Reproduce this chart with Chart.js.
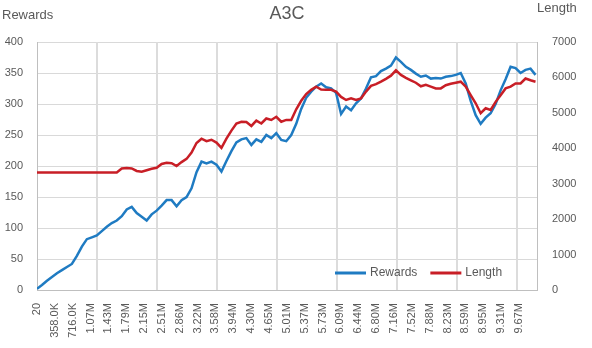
<!DOCTYPE html>
<html>
<head>
<meta charset="utf-8">
<script src="https://cdn.jsdelivr.net/npm/chart.js@4.4.1/dist/chart.umd.min.js"></script>
<style>
  html, body { margin: 0; padding: 0; background: #fff; }
</style>
</head>
<body>
<canvas id="chart" width="592" height="348"></canvas>
<script>
// training steps, in thousands
const stepsK = [0.02, 100, 200, 300, 400, 500, 600, 700, 800, 900,
  1000, 1100, 1200, 1300, 1400, 1500, 1600, 1700, 1800, 1900,
  2000, 2100, 2200, 2300, 2400, 2500, 2600, 2700, 2800, 2900,
  3000, 3100, 3200, 3300, 3400, 3500, 3600, 3700, 3800, 3900,
  4000, 4100, 4200, 4300, 4400, 4500, 4600, 4700, 4800, 4900,
  5000, 5100, 5200, 5300, 5400, 5500, 5600, 5700, 5800, 5900,
  6000, 6100, 6200, 6300, 6400, 6500, 6600, 6700, 6800, 6900,
  7000, 7100, 7200, 7300, 7400, 7500, 7600, 7700, 7800, 7900,
  8000, 8100, 8200, 8300, 8400, 8500, 8600, 8700, 8800, 8900,
  9000, 9100, 9200, 9300, 9400, 9500, 9600, 9700, 9800, 9900, 10000];

const rewards = [2, 8, 15, 21, 27, 32, 37, 42, 55, 70,
  82, 85, 88, 95, 102, 108, 112, 119, 130, 134,
  124, 118, 112, 122, 128, 136, 145, 145, 135, 145,
  150, 164, 190, 207, 204, 207, 202, 191, 208, 224,
  238, 243, 245, 234, 243, 239, 250, 245, 253, 242,
  240, 250, 268, 292, 310, 320, 328, 333, 327, 325,
  318, 284, 296, 290, 301, 309, 325, 343, 345, 353,
  357, 362, 375, 368, 360, 355, 349, 344, 346, 341,
  342, 341, 344, 345, 347, 350, 333, 305, 282, 268,
  278, 285, 300, 322, 340, 360, 358, 350, 355, 357, 347];

const lengths = [3320, 3320, 3320, 3320, 3320, 3320, 3320, 3320, 3320, 3320,
  3320, 3320, 3320, 3320, 3320, 3320, 3320, 3430, 3440, 3430,
  3360, 3340, 3380, 3420, 3450, 3556, 3590, 3580, 3500, 3610,
  3700, 3880, 4150, 4270, 4200, 4240, 4160, 4010, 4270, 4500,
  4700, 4750, 4740, 4630, 4780, 4700, 4840, 4800, 4890, 4750,
  4800, 4800, 5100, 5340, 5530, 5650, 5740, 5660, 5650, 5650,
  5600, 5450, 5363, 5410, 5363, 5410, 5600, 5760, 5810, 5880,
  5960, 6050, 6200, 6070, 5990, 5920, 5850, 5750, 5790, 5740,
  5690, 5690, 5780, 5820, 5850, 5880, 5740, 5500, 5270, 4990,
  5130, 5080, 5310, 5500, 5690, 5740, 5830, 5830, 5970, 5920, 5880];

const xTickLabels = ['20', '358.0K', '716.0K', '1.07M', '1.43M', '1.79M', '2.15M',
  '2.51M', '2.86M', '3.22M', '3.58M', '3.94M', '4.30M', '4.65M', '5.01M',
  '5.37M', '5.73M', '6.09M', '6.44M', '6.80M', '7.16M', '7.52M', '7.88M',
  '8.23M', '8.59M', '8.95M', '9.31M', '9.67M'];

const labelEveryK = 358;   // one label each 358K steps
const gridEveryK = 1204;   // vertical grid lines
const xMaxK = 10030;

const textColor = '#595959';
const gridColor = '#d9d9d9';
const fontFamily = "'Liberation Sans', Arial, sans-serif";

// title, axis captions, vertical grid and the legend inside the plot
const decorPlugin = {
  id: 'decor',
  beforeDatasetsDraw(chart) {
    const c = chart.ctx;
    const area = chart.chartArea;
    const xs = chart.scales.x;
    const left = xs.getPixelForValue(0);
    const width = xs.getPixelForValue(xMaxK) - left;
    c.save();
    c.fillStyle = '#dcdcdc';
    let k = 1;
    while (k * gridEveryK < xMaxK) {
      const px = Math.round(left + width * k * gridEveryK / xMaxK);
      c.fillRect(px - 1, area.top, 2, area.bottom - area.top);
      k++;
    }
    c.restore();
  },
  afterDraw(chart) {
    const c = chart.ctx;
    const area = chart.chartArea;
    c.save();
    c.fillStyle = textColor;
    c.textBaseline = 'middle';

    c.font = '18px ' + fontFamily;
    c.textAlign = 'center';
    c.fillText('A3C', 287, 14);

    c.font = '13px ' + fontFamily;
    c.textAlign = 'left';
    c.fillText('Rewards', 2, 15);
    c.fillText('Length', area.right, 8);

    // legend
    c.font = '12px ' + fontFamily;
    let x = 335;
    const y = 273;
    chart.data.datasets.forEach(ds => {
      c.strokeStyle = ds.borderColor;
      c.lineWidth = 3;
      c.beginPath();
      c.moveTo(x, y);
      c.lineTo(x + 31, y);
      c.stroke();
      c.fillText(ds.label, x + 35, y);
      x += 35 + c.measureText(ds.label).width + 13;
    });
    c.restore();
  }
};

new Chart(document.getElementById('chart'), {
  type: 'line',
  data: {
    datasets: [{
      label: 'Rewards',
      data: stepsK.map((s, i) => ({ x: s, y: rewards[i] })),
      borderColor: '#1f7bc2',
      borderWidth: 2.5,
      pointRadius: 0,
      yAxisID: 'y',
      order: 2
    }, {
      label: 'Length',
      data: stepsK.map((s, i) => ({ x: s, y: lengths[i] })),
      borderColor: '#c81e26',
      borderWidth: 2.5,
      pointRadius: 0,
      yAxisID: 'y1',
      order: 1
    }]
  },
  options: {
    responsive: false,
    animation: false,
    layout: { padding: { top: 42, left: 0, right: 0, bottom: 0 } },
    plugins: {
      legend: { display: false },
      tooltip: { enabled: false }
    },
    scales: {
      x: {
        type: 'linear',
        min: 0,
        max: xMaxK,
        afterFit: s => { s.height = 58; },
        afterBuildTicks: s => {
          s.ticks = xTickLabels.map((l, i) => ({ value: i * labelEveryK + 0.02 }));
        },
        ticks: {
          autoSkip: false,
          minRotation: 90,
          maxRotation: 90,
          padding: 5,
          color: textColor,
          font: { family: fontFamily, size: 11 },
          callback: (v, i) => xTickLabels[i]
        },
        grid: { display: false },
        border: { display: true, color: '#bfbfbf', width: 1 }
      },
      y: {
        position: 'left',
        min: 0,
        max: 400,
        afterFit: s => { s.width = 37; },
        ticks: {
          stepSize: 50,
          padding: 14,
          color: textColor,
          font: { family: fontFamily, size: 11 },
          callback: v => String(v)
        },
        grid: { color: gridColor, drawTicks: false },
        border: { display: true, color: '#bfbfbf', width: 1 }
      },
      y1: {
        position: 'right',
        min: 0,
        max: 7000,
        afterFit: s => { s.width = 55; },
        ticks: {
          stepSize: 1000,
          padding: 15,
          color: textColor,
          font: { family: fontFamily, size: 11 },
          callback: v => String(v)
        },
        grid: { display: false, drawTicks: false },
        border: { display: true, color: '#bfbfbf', width: 1 }
      }
    }
  },
  plugins: [decorPlugin]
});
</script>
</body>
</html>
